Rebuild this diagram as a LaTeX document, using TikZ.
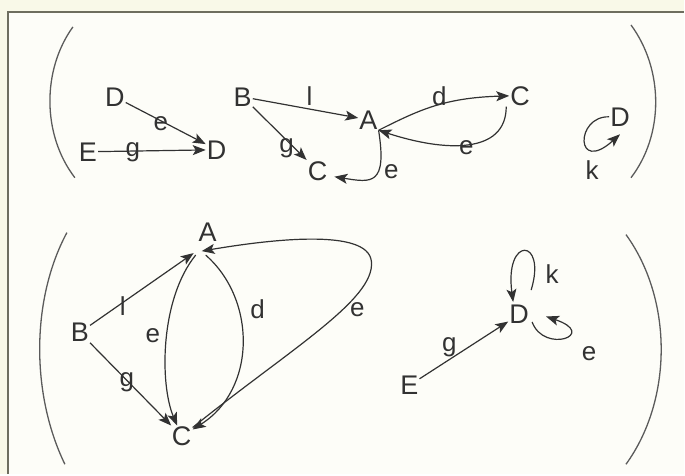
\documentclass[tikz,border=0pt]{standalone}
\usepackage{fontspec}
\setmainfont{Liberation Sans}
\usetikzlibrary{arrows.meta}
\definecolor{bgout}{RGB}{249,249,232}
\definecolor{bgin}{RGB}{253,253,248}
\definecolor{framec}{RGB}{110,110,95}
\definecolor{ink}{RGB}{50,50,50}
\tikzset{
  vx/.style={font=\fontsize{27}{27}\selectfont, text=ink, inner sep=1pt},
  lb/.style={font=\fontsize{26}{26}\selectfont, text=ink, inner sep=0pt},
  arr/.style={draw=ink, line width=1.2pt, -{Stealth[length=13pt,width=10pt,inset=3pt]}},
  paren/.style={draw=ink!80, line width=1.3pt},
  framel/.style={draw=framec, line width=2.2pt}
}
\begin{document}
\begin{tikzpicture}[x=1pt,y=-1pt]
\fill[bgout] (0,0) rectangle (685,475);
\fill[bgin] (8,12) rectangle (685,475);
\draw[framel] (8,475) -- (8,12) -- (685,12);
\useasboundingbox (0,0) rectangle (685,475);

% parentheses
\draw[paren] (73,27) .. controls (42,70) and (42,135) .. (75,178);
\draw[paren] (632,25) .. controls (665,70) and (665,135) .. (632,178);
\draw[paren] (67,233) .. controls (31,300) and (31,395) .. (65,465);
\draw[paren] (627,235) .. controls (674,300) and (674,400) .. (627,465);

% ---- top left graph
\node[vx] (D1) at (115,97) {D};
\node[vx] (E1) at (88,152) {E};
\node[vx] (D2) at (217,150) {D};
\draw[arr] (D1) -- (D2);
\draw[arr] (E1) -- (D2);
\node[lb] (le1) at (161,124) {e};
\node[lb] (lg1) at (133,152) {g};

% ---- top middle graph
\node[vx] (B2) at (243,97) {B};
\node[vx] (A2) at (369,120) {A};
\node[vx] (C2) at (521,96) {C};
\node[vx] (C3) at (318,171) {C};
\draw[arr] (B2) -- (A2);
\draw[arr] (B2) -- (C3);
\draw[arr] (A2.south east) .. controls (420,110) and (445,98) .. (C2.west);
\draw[arr] ([xshift=-3pt]C2.south west) .. controls (507,155) and (445,152) .. (A2.south east);
\draw[arr] (A2.south east) .. controls (388,186) and (372,183) .. ([xshift=6pt,yshift=-6pt]C3.east);
\node[lb] (ll2) at (310,96) {l};
\node[lb] (ld2) at (440,96) {d};
\node[lb] (le2) at (467,148) {e};
\node[lb] (le3) at (392,172) {e};
\node[lb] (lg2) at (287,148) {g};

% ---- top right graph
\node[vx] (D3) at (621,117) {D};
\draw[arr] (D3.west) .. controls (576,116) and (576,175) .. ([yshift=-7pt]D3.south);
\node[lb] (lk3) at (593,170) {k};

% ---- bottom left graph
\node[vx] (A4) at (208,233) {A};
\node[vx] (B4) at (80,333) {B};
\node[vx] (C4) at (182,437) {C};
\draw[arr] (B4) -- ([shift={(-14pt,-10pt)}]A4.south);
\draw[arr] (B4) -- (C4);
\draw[arr] ([shift={(-12pt,-12pt)}]A4.south) .. controls (160,300) and (160,385) .. (C4);
\draw[arr] ([shift={(-2pt,-12pt)}]A4.south) .. controls (257,300) and (257,390) .. (C4);
\draw[arr] (C4) .. controls (290,350) and (376,300) .. (372,262)
                .. controls (369,228) and (270,240) .. ([shift={(-6pt,-8pt)}]A4.south);
\node[lb] (ll4) at (123,307) {l};
\node[lb] (lg4) at (127,383) {g};
\node[lb] (le4) at (153,336) {e};
\node[lb] (ld4) at (258,310) {d};
\node[lb] (le5) at (358,310) {e};

% ---- bottom right graph
\node[vx] (D5) at (520,315) {D};
\node[vx] (E5) at (410,386) {E};
\draw[arr] (E5) -- (D5);
\draw[arr] ([shift={(12,-14)}]D5.north) .. controls (548,238) and (505,236) .. ([xshift=-6pt,yshift=2pt]D5.north);
\draw[arr] ([xshift=2pt,yshift=3pt]D5.south east) .. controls (545,355) and (600,335) .. ([xshift=16pt,yshift=-2pt]D5.east);
\node[lb] (lg5) at (450,348) {g};
\node[lb] (lk5) at (553,275) {k};
\node[lb] (le6) at (590,354) {e};
\end{tikzpicture}
\end{document}
